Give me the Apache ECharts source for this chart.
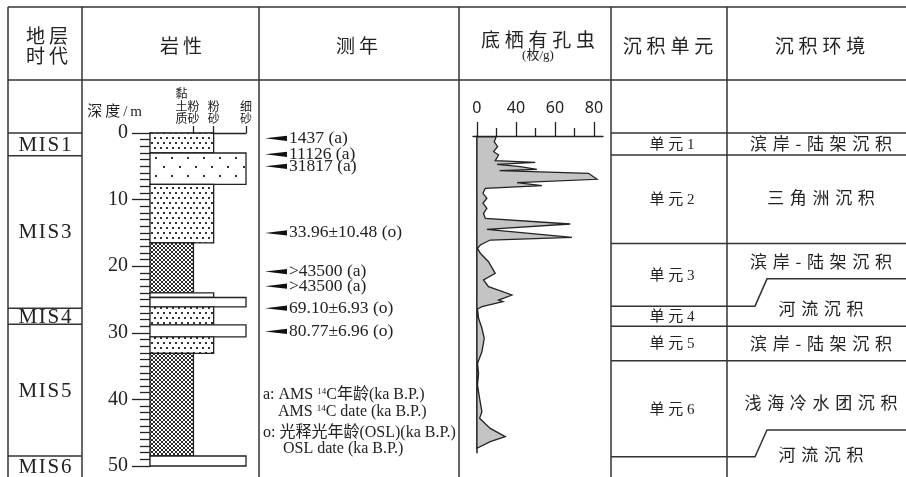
<!DOCTYPE html>
<html>
<head>
<meta charset="utf-8">
<script src="https://cdn.jsdelivr.net/npm/echarts@6/dist/echarts.min.js"></script>
<style>
html, body { margin: 0; padding: 0; background: #fff; }
#chart { width: 906px; height: 477px; }
</style>
</head>
<body>
<div id="chart"></div>
<script>
// lithology layers, depth in m
const litTop = [0, 3, 7.7, 16.5, 24, 24.7, 26.1, 28.8, 30.6, 33.1, 48.5]
const litBottom = [3, 7.7, 16.5, 24, 24.7, 26.1, 28.8, 30.6, 33.1, 48.5, 50]
const litGrain = ['粉砂', '细砂', '粉砂', '黏土质粉砂', '粉砂', '细砂', '粉砂', '细砂', '粉砂', '黏土质粉砂', '细砂']
const litFill = ['dots', 'sparse', 'dots', 'hatch', 'none', 'none', 'dots', 'none', 'dots', 'hatch', 'none']
const grainNames = ['黏土质粉砂', '粉砂', '细砂']
const grainRank = [2.15, 3.15, 4.75]

// dating
const dateDepth = [0.8, 3.2, 5.0, 15, 20.8, 23, 26.3, 29.8]
const dateText = ['1437 (a)', '11126 (a)', '31817 (a)', '33.96±10.48 (o)', '>43500 (a)', '>43500 (a)', '69.10±6.93 (o)', '80.77±6.96 (o)']

// benthic foraminifera (枚/g)
const foramDepth = [0.56, 1.31, 2.06, 2.81, 3.30, 4.16, 4.40, 4.70, 5.06, 5.45, 5.66, 6.05, 6.95, 7.46, 7.91, 8.30, 9.05, 9.80, 10.56, 11.31,
  12.06, 12.81, 13.66, 14.46, 15.66, 16.07, 16.82, 17.31, 18.06, 19.32, 21.07, 22.07, 23.08, 24.32, 25.08, 25.33, 26.08, 26.43, 27.82, 29.32,
  30.83, 32.84, 34.58, 36.08, 37.84, 39.83, 41.85, 42.84, 44.35, 45.59, 46.35, 47.34]
const foramCount = [13.2, 11.8, 14.1, 11.4, 14.8, 12.5, 39.9, 13.7, 29.6, 41.0, 15.5, 76.3, 82.1, 27.4, 44.4, 5.7, 4.1, 6.8, 4.1, 6.8,
  4.5, 5.7, 63.8, 6.8, 65.0, 9.1, 2.3, 0.4, 2.3, 7.9, 12.5, 4.5, 7.9, 23.9, 14.8, 17.8, 3.4, 0.4, 1.1, 3.4,
  5.0, 3.4, 0.4, 1.1, 0.4, 1.8, 3.4, 1.8, 9.1, 19.4, 9.1, 0]
const foramTickLabels = ['0', '40', '60', '80']

// stages, units, environments
const misName = ['MIS1', 'MIS3', 'MIS4', 'MIS5', 'MIS6']
const misTop = [0, 3.4, 26.3, 28.7, 48.5]
const unitName = ['单元1', '单元2', '单元3', '单元4', '单元5', '单元6', '']
const unitTop = [0, 3.3, 16.6, 26, 29, 34.2, 48.6]
const envName = ['滨岸-陆架沉积', '三角洲沉积', '滨岸-陆架沉积', '河流沉积', '滨岸-陆架沉积', '浅海冷水团沉积', '河流沉积']
const envTop = [0, 3.3, 16.6, 21.9, 29, 34.2, 44.6]
const envLabelDepth = [1.65, 9.7, 19.3, 26.3, 31.6, 40.5, 48.3]

const INK = '#222'
const SERIF = '"Liberation Serif", "Noto Sans CJK SC", serif'
const CJK = '"Noto Sans CJK SC", sans-serif'
const spaced = (s, gap) => Array.from(s).join(gap)

// column edges of the table
const X = { left: 8, mis: 82, lith: 259, date: 459, foram: 611, unit: 727, right: 906 }
const TABLE_MAX = 51.65

function makePattern(kind) {
  const c = document.createElement('canvas')
  const g = c.getContext('2d')
  if (kind === 'dots') {
    c.width = 6; c.height = 10
    g.fillStyle = '#fff'; g.fillRect(0, 0, 6, 10)
    g.fillStyle = '#333'; g.fillRect(1, 2, 2, 2); g.fillRect(4, 7, 2, 2)
  } else if (kind === 'sparse') {
    c.width = 16; c.height = 18
    g.fillStyle = '#fff'; g.fillRect(0, 0, 16, 18)
    g.fillStyle = '#333'; g.fillRect(3, 4, 2, 2); g.fillRect(11, 13, 2, 2)
  } else {
    c.width = 4; c.height = 4
    g.fillStyle = '#fff'; g.fillRect(0, 0, 4, 4)
    g.fillStyle = '#2a2a2a'
    for (let i = 0; i < 4; i++) { g.fillRect(i, i, 1, 1); g.fillRect(3 - i, i, 1, 1) }
  }
  return { image: c, repeat: 'repeat' }
}
const patterns = { dots: makePattern('dots'), sparse: makePattern('sparse'), hatch: makePattern('hatch') }

function txt(text, x, y, font, align) {
  const a = align || 'center'
  return {
    type: 'text', x, y,
    style: { text, font, fill: INK, align: a, verticalAlign: 'middle', textAlign: a, textVerticalAlign: 'middle' }
  }
}
function hline(x1, x2, y) {
  return { type: 'line', shape: { x1, y1: y, x2, y2: y }, style: { stroke: '#333', lineWidth: 1.5 } }
}

const graphics = []
graphics.push(hline(X.left, X.right, 7), hline(X.left, X.right, 80))
;[X.left, X.mis, X.lith, X.date, X.foram, X.unit].forEach(x => {
  graphics.push({ type: 'line', shape: { x1: x, y1: 7, x2: x, y2: 477 }, style: { stroke: '#333', lineWidth: 1.5 } })
})
const headFont = '19px ' + CJK
graphics.push(
  txt(spaced('地层', '\u2009'), 47, 36, headFont),
  txt(spaced('时代', '\u2009'), 47, 56, headFont),
  txt(spaced('岩性', '\u2009'), 181, 46, headFont),
  txt(spaced('测年', '\u2009'), 357, 46, headFont),
  txt(spaced('底栖有孔虫', '\u2005'), 538, 40, headFont),
  txt('(枚/g)', 538, 56, '13px ' + SERIF),
  txt(spaced('沉积单元', '\u2005'), 668, 46, headFont),
  txt(spaced('沉积环境', '\u2005'), 820, 46, headFont)
)
const sup = { sup: { fontSize: 9, fontFamily: SERIF, verticalAlign: 'top', fill: INK } }
function legend(text, x, y) {
  return {
    type: 'text', x, y,
    style: { text, font: '16px ' + SERIF, fill: INK, align: 'left', verticalAlign: 'middle', textAlign: 'left', textVerticalAlign: 'middle', rich: sup }
  }
}
graphics.push(
  legend('a: AMS {sup|14}C年龄(ka B.P.)', 263, 395),
  legend('AMS {sup|14}C date (ka B.P.)', 278, 412),
  legend('o: 光释光年龄(OSL)(ka B.P.)', 263, 433),
  legend('OSL date (ka B.P.)', 283, 449)
)

const foramMajor = foramTickLabels.map((_, i) => i * 80 / 3)
const foramMinor = [40 / 3, 40, 200 / 3]

const grainLabel = v => {
  const n = grainNames[grainRank.findIndex(r => Math.abs(r - v) < 1e-6)]
  if (n === '黏土质粉砂') return '黏\u3000\u3000\n土粉\u3000\n质砂\u3000'
  return n.split('').join('\n')
}
const grainLabelStyle = {
  margin: 8, color: INK, fontSize: 12, fontFamily: CJK, lineHeight: 12.5,
  showMinLabel: true, showMaxLabel: true, hideOverlap: false, formatter: grainLabel
}

const hiddenAxis = { show: false }
const chart = echarts.init(document.getElementById('chart'))
chart.setOption({
  animation: false,
  grid: [
    { left: 0, right: 0, top: 133, bottom: 0 },
    { left: 150, top: 133, width: 96, height: 333 },
    { left: 259, top: 133, width: 200, height: 333 },
    { left: 473, top: 136, width: 130, height: 316.7 }
  ],
  xAxis: [
    { gridIndex: 0, type: 'value', min: 0, max: 1, ...hiddenAxis },
    {
      gridIndex: 1, type: 'value', position: 'top', min: 0, max: grainRank[2],
      axisLine: { show: true, lineStyle: { color: INK, width: 1.3 } },
      axisTick: { show: true, customValues: grainRank, length: 7, lineStyle: { color: INK, width: 1.3 } },
      axisLabel: { customValues: grainRank.slice(0, 1), ...grainLabelStyle },
      splitLine: { show: false }
    },
    { gridIndex: 2, type: 'value', min: 0, max: 1, ...hiddenAxis },
    {
      gridIndex: 3, type: 'value', position: 'top', min: -2.7, max: 86.2,
      axisLine: { show: true, lineStyle: { color: INK, width: 1.3 } },
      axisTick: { show: true, customValues: foramMajor, length: 14, lineStyle: { color: INK, width: 1.3 } },
      axisLabel: {
        customValues: foramMajor, margin: 20, color: INK, fontSize: 16, fontFamily: '"Noto Sans", sans-serif',
        showMinLabel: true, showMaxLabel: true,
        formatter: v => foramTickLabels[foramMajor.findIndex(r => Math.abs(r - v) < 1e-6)]
      },
      splitLine: { show: false }
    },
    {
      gridIndex: 3, type: 'value', position: 'top', min: -2.7, max: 86.2,
      axisLine: { show: false },
      axisTick: { show: true, customValues: foramMinor, length: 8, lineStyle: { color: INK, width: 1.3 } },
      axisLabel: { show: false },
      splitLine: { show: false }
    },
    {
      gridIndex: 1, type: 'value', position: 'top', min: 0, max: grainRank[2],
      axisLine: { show: false }, axisTick: { show: false },
      axisLabel: { customValues: grainRank.slice(1), ...grainLabelStyle },
      splitLine: { show: false }
    }
  ],
  yAxis: [
    { gridIndex: 0, type: 'value', inverse: true, min: 0, max: TABLE_MAX, ...hiddenAxis },
    {
      gridIndex: 1, type: 'value', inverse: true, min: 0, max: 50, interval: 10,
      name: spaced('深度/m', '\u2009'), nameLocation: 'start', nameGap: 21,
      nameTextStyle: { color: INK, fontSize: 15, fontFamily: SERIF, align: 'right', verticalAlign: 'middle', padding: [0, 8, 0, 0] },
      axisLine: { show: true, lineStyle: { color: INK, width: 1.3 } },
      axisTick: { show: true, length: 18, lineStyle: { color: INK, width: 1.3 } },
      minorTick: { show: true, splitNumber: 10, length: 10, lineStyle: { color: INK, width: 1.3 } },
      axisLabel: { margin: 22, color: INK, fontSize: 20, fontFamily: SERIF },
      splitLine: { show: false }
    },
    { gridIndex: 2, type: 'value', inverse: true, min: 0, max: 50, ...hiddenAxis },
    {
      gridIndex: 3, type: 'value', inverse: true, min: 0.45, max: 48,
      axisLine: { show: true, onZero: true, lineStyle: { color: INK, width: 1.5 } },
      axisTick: { show: false }, axisLabel: { show: false }, splitLine: { show: false }
    }
  ],
  graphic: { elements: graphics },
  series: [
    {
      type: 'custom', name: 'lithology', xAxisIndex: 1, yAxisIndex: 1,
      data: litTop.map((t, i) => [grainRank[grainNames.indexOf(litGrain[i])], t, litBottom[i]]),
      encode: { x: 0, y: [1, 2] },
      renderItem: (params, api) => {
        const a = api.coord([0, api.value(1)])
        const b = api.coord([api.value(0), api.value(2)])
        const kind = litFill[params.dataIndex]
        return {
          type: 'rect',
          shape: { x: a[0], y: a[1], width: b[0] - a[0], height: b[1] - a[1] },
          style: { fill: kind === 'none' ? '#fff' : patterns[kind], stroke: INK, lineWidth: 1.3 }
        }
      }
    },
    {
      type: 'custom', name: 'dating', xAxisIndex: 2, yAxisIndex: 2,
      data: dateDepth.map(d => [0, d]),
      encode: { x: 0, y: 1 },
      renderItem: (params, api) => {
        const p = api.coord([0, api.value(1)])
        const x0 = params.coordSys.x
        return {
          type: 'group',
          children: [
            { type: 'polygon', shape: { points: [[x0 + 6, p[1]], [x0 + 28, p[1] - 2.6], [x0 + 28, p[1] + 2.6]] }, style: { fill: '#111' } },
            txt(dateText[params.dataIndex], x0 + 30, p[1], '17.5px ' + SERIF, 'left')
          ]
        }
      }
    },
    {
      type: 'custom', name: 'foram', xAxisIndex: 3, yAxisIndex: 3,
      data: [[foramCount[0], foramDepth[0]]],
      encode: { x: 0, y: 1 },
      renderItem: (params, api) => {
        const pts = [api.coord([0, foramDepth[0]])]
        foramDepth.forEach((d, i) => pts.push(api.coord([foramCount[i], d])))
        pts.push(api.coord([0, foramDepth[foramDepth.length - 1]]))
        return { type: 'polygon', shape: { points: pts }, style: { fill: '#c4c4c4', stroke: INK, lineWidth: 1.3, lineJoin: 'miter' } }
      }
    },
    {
      type: 'custom', name: 'MIS', xAxisIndex: 0, yAxisIndex: 0,
      data: misTop.map((t, i) => [0, t, i < misTop.length - 1 ? misTop[i + 1] : TABLE_MAX]),
      encode: { x: 0, y: [1, 2] },
      renderItem: (params, api) => {
        const y1 = api.coord([0, api.value(1)])[1]
        const y2 = api.coord([0, api.value(2)])[1]
        return {
          type: 'group',
          children: [
            hline(X.left, X.mis, y1),
            txt(spaced(misName[params.dataIndex], '\u200A'), 45, (y1 + y2) / 2 + 1, '21px ' + SERIF)
          ]
        }
      }
    },
    {
      type: 'custom', name: 'unit', xAxisIndex: 0, yAxisIndex: 0,
      data: unitTop.map((t, i) => [0, t, i < unitTop.length - 1 ? unitTop[i + 1] : TABLE_MAX]),
      encode: { x: 0, y: [1, 2] },
      renderItem: (params, api) => {
        const y1 = api.coord([0, api.value(1)])[1]
        const y2 = api.coord([0, api.value(2)])[1]
        return {
          type: 'group',
          children: [
            hline(X.foram, X.unit, y1),
            txt(spaced(unitName[params.dataIndex], '\u2005'), 672, (y1 + y2) / 2 + 1, '15px ' + SERIF)
          ]
        }
      }
    },
    {
      type: 'custom', name: 'environment', xAxisIndex: 0, yAxisIndex: 0,
      data: envTop.map((t, i) => [0, t, unitTop[i], envLabelDepth[i]]),
      encode: { x: 0, y: [1, 2, 3] },
      renderItem: (params, api) => {
        const yE = api.coord([0, api.value(1)])[1]
        const yU = api.coord([0, api.value(2)])[1]
        const yL = api.coord([0, api.value(3)])[1]
        const edge = Math.abs(yE - yU) < 0.5
          ? hline(X.unit, X.right, yE)
          : { type: 'polyline', shape: { points: [[X.unit, yU], [755, yU], [767, yE], [X.right, yE]] }, style: { stroke: '#333', lineWidth: 1.5, fill: null } }
        return {
          type: 'group',
          children: [edge, txt(spaced(envName[params.dataIndex], '\u2004'), 821, yL, '17px ' + CJK)]
        }
      }
    }
  ]
})
</script>
</body>
</html>
